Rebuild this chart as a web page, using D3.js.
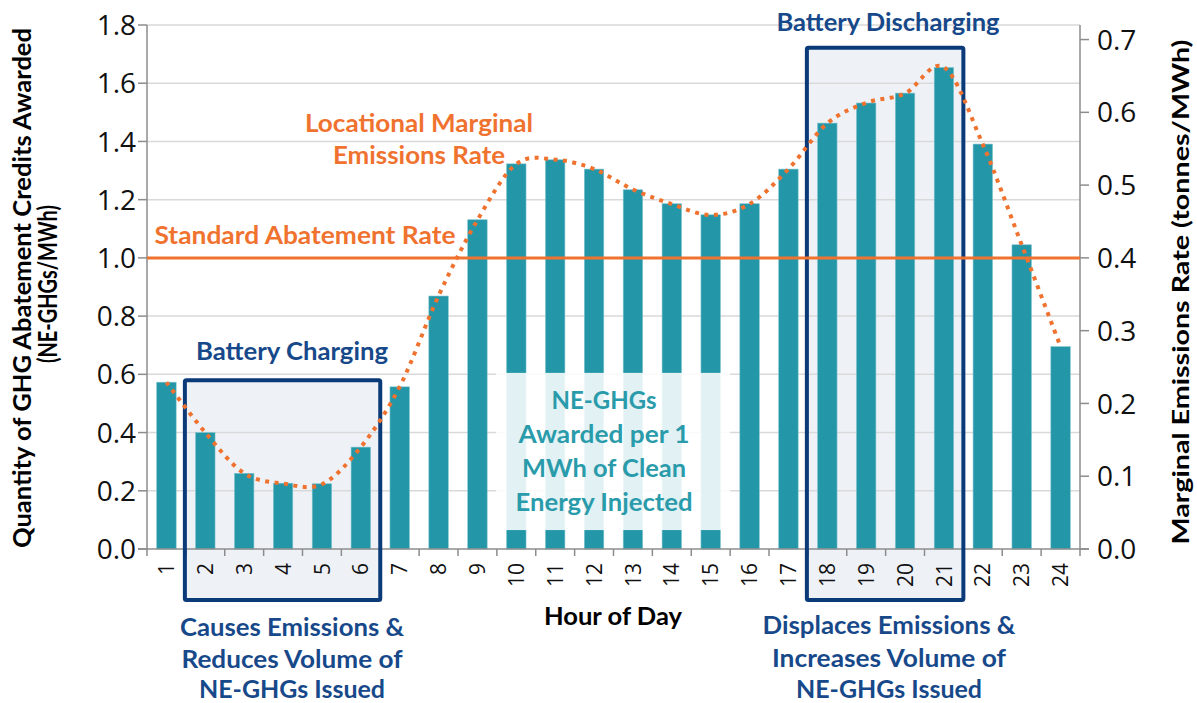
<!DOCTYPE html>
<html>
<head>
<meta charset="utf-8">
<script src="https://cdn.jsdelivr.net/npm/d3@7"></script>
<style>
  html, body { margin: 0; padding: 0; background: #ffffff; }
  svg { display: block; }
</style>
</head>
<body>
<svg id="chart" width="1197" height="703"></svg>
<script>
// ---------------- data ----------------
const hours = ["1","2","3","4","5","6","7","8","9","10","11","12","13","14","15","16","17","18","19","20","21","22","23","24"];
const credits = [0.573, 0.400, 0.260, 0.226, 0.224, 0.350, 0.557, 0.869, 1.131, 1.323, 1.337, 1.305,
                 1.234, 1.186, 1.148, 1.186, 1.305, 1.463, 1.532, 1.566, 1.654, 1.391, 1.045, 0.695];
const lmer = [0.229, 0.160, 0.104, 0.090, 0.089, 0.140, 0.223, 0.348, 0.452, 0.529, 0.535, 0.522,
              0.494, 0.474, 0.459, 0.474, 0.522, 0.585, 0.613, 0.626, 0.662, 0.556, 0.418, 0.278];
const standardRate = 1.0;
const leftTicks = [0, 0.2, 0.4, 0.6, 0.8, 1.0, 1.2, 1.4, 1.6, 1.8];
const rightTicks = [0, 0.1, 0.2, 0.3, 0.4, 0.5, 0.6, 0.7];
const chargingHours = ["2", "6"];
const dischargingHours = ["18", "21"];
const middleHours = ["10", "15"];

// ---------------- layout ----------------
const L = 147, R = 1080, T = 25, B = 549;
const C = {
  teal: "#2396A8", orange: "#F0722F", navy: "#0B3A78", navyText: "#17498A",
  grid: "#D9D9D9", axis: "#8C8C8C", boxFill: "#EEF2F7", tealText: "#2A9BAB"
};
const svg = d3.select("#chart");

const x = d3.scaleBand().domain(hours).range([L, R]).paddingInner(0.5).paddingOuter(0.25);
const step = x.step();
const bandStart = h => x(h) - (step - x.bandwidth()) / 2;
const bandEnd = h => bandStart(h) + step;
const y = d3.scaleLinear().domain([0, 1.8]).range([B, T]);
const y2 = d3.scaleLinear().domain([0, 0.72]).range([B, T]);

function txt(g, s, px, py, opts) {
  const t = g.append("text").attr("x", px).attr("y", py).text(s)
    .attr("font-family", opts.family || "Lato, 'Open Sans', sans-serif")
    .attr("font-size", opts.size)
    .attr("font-weight", opts.weight || "bold")
    .attr("fill", opts.fill || "#000")
    .attr("text-anchor", opts.anchor || "middle");
  if (opts.width) t.attr("textLength", opts.width).attr("lengthAdjust", "spacingAndGlyphs");
  if (opts.rotate) t.attr("transform", `rotate(${opts.rotate},${px},${py})`);
  return t;
}

// ---------------- highlight boxes (fill) ----------------
const boxes = [
  { h: chargingHours, top: 0.58 },
  { h: dischargingHours, top: 1.722 }
];
const boxG = svg.append("g");
boxes.forEach(b => {
  boxG.append("rect")
    .attr("x", bandStart(b.h[0]) - 1)
    .attr("y", y(b.top))
    .attr("width", bandEnd(b.h[1]) - bandStart(b.h[0]) + 1)
    .attr("height", B + 51 - y(b.top))
    .attr("fill", C.boxFill);
});

// ---------------- gridlines ----------------
svg.append("g").selectAll("line").data(leftTicks.slice(1)).join("line")
  .attr("x1", L).attr("x2", R)
  .attr("y1", d => y(d)).attr("y2", d => y(d))
  .attr("stroke", C.grid).attr("stroke-width", 1.5);

// ---------------- bars ----------------
svg.append("g").selectAll("rect").data(hours).join("rect")
  .attr("x", h => x(h))
  .attr("width", x.bandwidth())
  .attr("y", (h, i) => y(credits[i]))
  .attr("height", (h, i) => B - y(credits[i]))
  .attr("fill", C.teal)
  .attr("stroke", "#7CC3CE").attr("stroke-width", 0.6);

// ---------------- middle label box ----------------
const mx0 = bandStart(middleHours[0]) - 1, mx1 = bandEnd(middleHours[1]);
svg.append("rect")
  .attr("x", mx0).attr("y", y(0.605))
  .attr("width", mx1 - mx0).attr("height", y(0.065) - y(0.605))
  .attr("fill", "#ffffff").attr("fill-opacity", 0.87);
const mg = svg.append("g");
const mcx = (mx0 + mx1) / 2 - 9;
[["NE-GHGs", 409, 105], ["Awarded per 1", 443, 171], ["MWh of Clean", 477, 164], ["Energy Injected", 511, 177]]
  .forEach(d => txt(mg, d[0], mcx, d[1], { size: 25, fill: C.tealText, width: d[2] }));

// ---------------- axes ----------------
const axG = svg.append("g").attr("stroke", C.axis).attr("stroke-width", 1.5);
axG.append("line").attr("x1", L).attr("x2", L).attr("y1", T).attr("y2", B);
axG.append("line").attr("x1", R).attr("x2", R).attr("y1", T).attr("y2", B);
axG.append("line").attr("x1", L - 9).attr("x2", R + 9).attr("y1", B).attr("y2", B);
axG.selectAll(".lt").data(leftTicks).join("line")
  .attr("x1", L - 9).attr("x2", L).attr("y1", d => y(d)).attr("y2", d => y(d));
axG.selectAll(".rt").data(rightTicks).join("line")
  .attr("x1", R).attr("x2", R + 9).attr("y1", d => y2(d)).attr("y2", d => y2(d));
axG.selectAll(".bt").data(hours).join("line")
  .attr("x1", h => bandEnd(h)).attr("x2", h => bandEnd(h)).attr("y1", B).attr("y2", B + 7);
axG.append("line").attr("x1", L).attr("x2", L).attr("y1", B).attr("y2", B + 7);

const fmt = d3.format(".1f");
svg.append("g").selectAll("text").data(leftTicks).join("text")
  .attr("x", 136).attr("y", d => y(d)).attr("dy", "0.36em")
  .attr("text-anchor", "end").attr("font-family", "'Open Sans', sans-serif")
  .attr("font-size", 28).attr("fill", "#111").text(fmt);
svg.append("g").selectAll("text").data(rightTicks).join("text")
  .attr("x", 1097).attr("y", d => y2(d)).attr("dy", "0.36em")
  .attr("text-anchor", "start").attr("font-family", "'Open Sans', sans-serif")
  .attr("font-size", 28).attr("fill", "#111").text(fmt);
svg.append("g").selectAll("text").data(hours).join("text")
  .attr("transform", h => `translate(${x(h) + x.bandwidth() / 2},563) rotate(-90)`)
  .attr("dy", "0.36em").attr("text-anchor", "end")
  .attr("font-family", "'Open Sans', sans-serif").attr("font-size", 21).attr("fill", "#111")
  .text(h => h);

// ---------------- box outlines ----------------
boxes.forEach(b => {
  svg.append("rect")
    .attr("x", bandStart(b.h[0]) - 1)
    .attr("y", y(b.top))
    .attr("width", bandEnd(b.h[1]) - bandStart(b.h[0]) + 1)
    .attr("height", B + 51 - y(b.top))
    .attr("fill", "none").attr("stroke", C.navy).attr("stroke-width", 4)
    .attr("rx", 1.5);
});

// ---------------- lines ----------------
svg.append("line")
  .attr("x1", L).attr("x2", R).attr("y1", y(standardRate)).attr("y2", y(standardRate))
  .attr("stroke", C.orange).attr("stroke-width", 3);

const line = d3.line()
  .x((d, i) => x(hours[i]) + x.bandwidth() / 2)
  .y(d => y2(d))
  .curve(d3.curveCatmullRom.alpha(0));
svg.append("path").datum(lmer).attr("d", line)
  .attr("fill", "none").attr("stroke", C.orange).attr("stroke-width", 4)
  .attr("stroke-dasharray", "4 5.5");

// ---------------- annotations ----------------
const ag = svg.append("g");
txt(ag, "Locational Marginal", 419, 132, { size: 25, fill: C.orange, width: 228 });
txt(ag, "Emissions Rate", 419, 164, { size: 25, fill: C.orange, width: 172 });
txt(ag, "Standard Abatement Rate", 305, 244, { size: 25, fill: C.orange, width: 301 });
txt(ag, "Battery Charging", 292, 360, { size: 25, fill: C.navyText, width: 192 });
txt(ag, "Battery Discharging", 888, 31, { size: 25, fill: C.navyText, width: 223 });

txt(ag, "Causes Emissions &", 292, 636, { size: 25, fill: C.navyText, width: 224 });
txt(ag, "Reduces Volume of", 292, 668, { size: 25, fill: C.navyText, width: 221 });
txt(ag, "NE-GHGs Issued", 292, 698, { size: 24, fill: C.navyText, width: 186 });
txt(ag, "Displaces Emissions &", 889, 634, { size: 25, fill: C.navyText, width: 253 });
txt(ag, "Increases Volume of", 889, 667, { size: 25, fill: C.navyText, width: 234 });
txt(ag, "NE-GHGs Issued", 889, 698, { size: 24, fill: C.navyText, width: 186 });

txt(ag, "Hour of Day", 613, 625, { size: 24, fill: "#000", width: 138 });

// axis titles
txt(ag, "Quantity of GHG Abatement Credits Awarded", 31, 288, { size: 24, fill: "#000", rotate: -90, width: 520 });
txt(ag, "(NE-GHGs/MWh)", 57, 284, { size: 26, fill: "#000", rotate: -90, width: 158 });
txt(ag, "Marginal Emissions Rate (tonnes/MWh)", 1189, 292, { size: 23, fill: "#000", rotate: -90, width: 505 });
</script>
</body>
</html>
